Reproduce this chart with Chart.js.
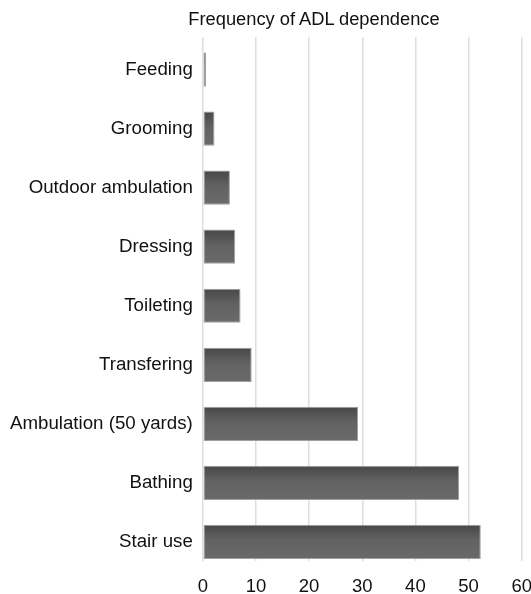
<!DOCTYPE html>
<html>
<head>
<meta charset="utf-8">
<script src="https://cdn.jsdelivr.net/npm/chart.js@4.4.0/dist/chart.umd.min.js"></script>
<style>
  html, body { margin: 0; padding: 0; background: #fff; overflow: hidden; }
  #wrap { position: relative; width: 531px; height: 594px; overflow: hidden; }
  #title {
    position: absolute; top: 8px; left: 314px; transform: translateX(-50%);
    font-family: "Liberation Sans", Arial, sans-serif; font-size: 18.3px; color: #111;
    white-space: nowrap;
  }
</style>
</head>
<body>
<div id="wrap">
  <div id="title">Frequency of ADL dependence</div>
  <canvas id="adlChart" width="547" height="613"></canvas>
</div>
<script>
// --------- Data ---------
const categories = [
  "Feeding", "Grooming", "Outdoor ambulation", "Dressing", "Toileting",
  "Transfering", "Ambulation (50 yards)", "Bathing", "Stair use"
];
const frequencies = [0.6, 2.2, 5.1, 6.1, 7.1, 9.2, 29.2, 48.2, 52.3];
const xTicks = [0, 10, 20, 30, 40, 50, 60];

const BAR_PCT = 0.58;

// categories sit on a numeric index axis so the plot can run a bit past the last bar
const points = frequencies.map((v, i) => ({ x: v, y: i }));

// gradient per bar, built from the y scale position of each category
function barFill(context) {
  const chart = context.chart;
  const area = chart.chartArea;
  if (!area || context.dataIndex === undefined) return "#5c5c5c";
  const yScale = chart.scales.y;
  const center = yScale.getPixelForValue(context.dataIndex);
  const step = Math.abs(yScale.getPixelForValue(1) - yScale.getPixelForValue(0));
  const half = step * BAR_PCT / 2;
  const g = chart.ctx.createLinearGradient(0, center - half, 0, center + half);
  g.addColorStop(0, "#474747");
  g.addColorStop(0.45, "#626262");
  g.addColorStop(1, "#6a6a6a");
  return g;
}

const fontFamily = '"Liberation Sans", Arial, sans-serif';

new Chart(document.getElementById("adlChart"), {
  type: "bar",
  data: {
    datasets: [
      {
        data: points,
        backgroundColor: barFill,
        borderColor: "#a0a0a0",
        borderWidth: 1,
        borderSkipped: false,
        barPercentage: BAR_PCT,
        categoryPercentage: 1
      }
    ]
  },
  options: {
    indexAxis: "y",
    responsive: false,
    animation: false,
    layout: { padding: { top: 37, left: 0, right: 0, bottom: 0 } },
    plugins: {
      legend: { display: false },
      title: { display: false },
      tooltip: { enabled: false }
    },
    scales: {
      x: {
        type: "linear",
        min: 0,
        max: 60,
        afterBuildTicks: (scale) => {
          scale.ticks = xTicks.map((v) => ({ value: v }));
        },
        border: { display: false },
        grid: { color: "#dedede", lineWidth: 1.5, drawTicks: false },
        ticks: {
          color: "#111",
          padding: 15,
          maxRotation: 0,
          font: { family: fontFamily, size: 18.5 }
        }
      },
      y: {
        type: "linear",
        reverse: true,
        offset: false,
        min: -0.553,
        max: 8.321,
        afterBuildTicks: (scale) => {
          scale.ticks = categories.map((c, i) => ({ value: i }));
        },
        border: { display: false },
        grid: { display: false, drawTicks: false },
        ticks: {
          color: "#111",
          padding: 10,
          autoSkip: false,
          callback: (value) => categories[value],
          font: { family: fontFamily, size: 18.7 }
        }
      }
    }
  }
});
</script>
</body>
</html>
